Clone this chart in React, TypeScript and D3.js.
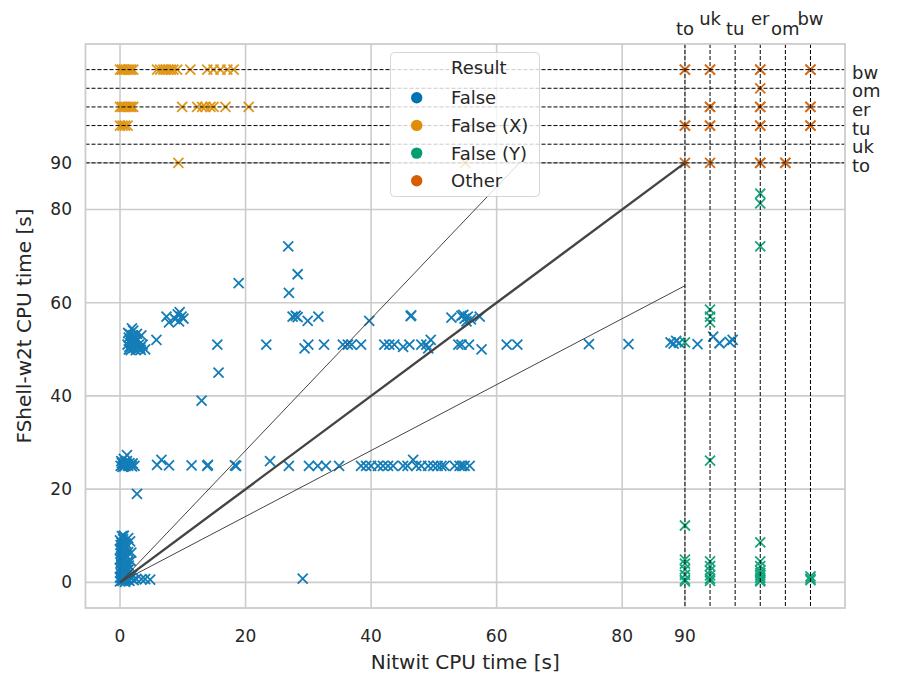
import React from 'react';
import * as d3 from 'd3';

const categories = ['False', 'False (X)', 'False (Y)', 'Other'];
const palette = ['#0173b2', '#de8f05', '#029e73', '#d55e00'];
const xTicks = [0, 20, 40, 60, 80, 90];
const yTicks = [0, 20, 40, 60, 80, 90];
const specialLabels = ['to', 'uk', 'tu', 'er', 'om', 'bw'];
const specialValues = [90, 94, 98, 102, 106, 110];
const refSlopes = [1, Math.SQRT2, Math.SQRT1_2];
const refLimit = 90;

// Result = False
const falsePts: [number, number][] = [
  [0, 0.2], [0.2, 0.5], [0.4, 0.3], [0.6, 0.8], [0.9, 0.4], [1.2, 0.6], [1.5, 0.3], [1.8, 0.9], [2.2, 0.5], [2.6, 0.7],
  [0.1, 1.2], [0.5, 1.6], [0.9, 1.3], [1.3, 1.9], [0.2, 2.4], [0.6, 2.9], [1, 2.5], [0.3, 3.4], [0.7, 3.8], [0.1, 4.2],
  [0.5, 4.7], [0.9, 5.1], [1.7, 4.6], [0.2, 5.6], [0.6, 6], [1.8, 6.4], [0.3, 6.8], [0.8, 7.2], [0.4, 7.8], [1, 8.3],
  [0.2, 8.6], [1.6, 8.8], [0.5, 9.3], [0.3, 9.9], [3.4, 0.7], [4, 0.7], [4.8, 0.6], [29.1, 0.8],
  [0, 1], [0.1, 2], [0, 3], [0.2, 3.2], [0, 5], [0.1, 6.2], [0, 7], [0.1, 8], [0, 9], [0.4, 1.1],
  [0.7, 2.1], [1.1, 3.2], [0.4, 4.4], [1.2, 4.4], [0.8, 5.8], [1.3, 6.5], [1.1, 7.6], [0.7, 8.6], [1.3, 9.5], [0.6, 10],
  [1.5, 1.3], [2, 1.6], [1.4, 2.8], [0.3, 0.9], [0.8, 0.1], [1.1, 1], [0.5, 5.2], [1, 5.8], [0.2, 7.3], [1.4, 3.6],
  [2.7, 19],
  [0.1, 25], [0.3, 25.6], [0.5, 25], [0.7, 24.9], [0.9, 25.3], [1.1, 26], [1.3, 25], [1.1, 27.3], [1.7, 25.2], [2, 25.5],
  [2.3, 25], [0.6, 26.5], [0.2, 26], [0.8, 25.8], [1.5, 25.6], [0.4, 24.8], [1.9, 24.9],
  [5.9, 25.2], [6.6, 26.3], [7.8, 25.1], [11.4, 25.1], [13.9, 25], [14, 25.2], [18.3, 25.1], [18.5, 25],
  [23.9, 26], [26.9, 25], [30.1, 25], [31.5, 25], [32.8, 25], [34.9, 25], [38.4, 25], [39.2, 25], [40, 25], [41.1, 25],
  [41.9, 25], [42.7, 25], [43.5, 25], [45.1, 25], [45.8, 25], [46.7, 26.3], [47.2, 25], [48, 25], [49.1, 25], [49.9, 25],
  [50.6, 25], [51.2, 25], [51.7, 25], [53.3, 25], [54.1, 25], [54.5, 25], [54.9, 25], [55.7, 25],
  [13, 39], [15.7, 45],
  [1.2, 51], [1.4, 50], [1.6, 52], [1.8, 51], [2, 53], [2.2, 50.3], [2.4, 51.5], [1.9, 54.5], [2.6, 50.5], [2.8, 52],
  [3, 51], [3.2, 50.3], [3.4, 53], [3.6, 51], [1.5, 50.5], [2.3, 52.8], [2.9, 50.2], [4, 50], [1.3, 53.5], [2.1, 54],
  [1.7, 49.8], [2.5, 49.8], [1.4, 52.5], [2.7, 53.3], [3.3, 49.9], [1.9, 51.8], [2.4, 52.2], [1.6, 53.2],
  [5.8, 52], [15.5, 51], [23.3, 51], [29.4, 50.2], [30, 51], [32.5, 51], [35.5, 51], [36.3, 51], [36.9, 51], [38.4, 51],
  [42.1, 51], [42.9, 51], [43.7, 51], [45.1, 50.5], [46.1, 51], [48, 51], [48.8, 51], [49.5, 52], [49.1, 50.2], [53.9, 51],
  [54.4, 51], [55.6, 51], [57.6, 50], [61.6, 51], [63.3, 51], [74.7, 51.1], [81, 51.1], [87.7, 51.5], [88.2, 51.2], [88.6, 51.8],
  [89.1, 51.4], [92, 51.1], [94.5, 52.7], [95.5, 51.3], [97.1, 51.6], [97.6, 52],
  [7.4, 57], [7.8, 55.8], [8.8, 56.5], [9.2, 57.5], [9.5, 58], [9.8, 57], [10.1, 56.6], [9.4, 56],
  [27.5, 57], [28, 57.2], [28.3, 56.9], [29.9, 56.1], [31.6, 57], [39.7, 56.1], [46.3, 57.1], [46.4, 57.3],
  [52.8, 56.8], [54.4, 57.2], [54.9, 56.6], [55.4, 57], [55.9, 56.4], [57.3, 57], [54.7, 57.4], [55.2, 56],
  [26.9, 62.1], [18.9, 64.2], [28.3, 66.1], [26.8, 72.1],
];

// Result = False (X)
const falseXPts: [number, number][] = [
  [0, 110], [0.3, 110], [0.6, 110], [0.9, 110], [1.2, 110], [1.5, 110], [1.8, 110], [2.1, 110],
  [5.9, 110], [6.4, 110], [6.9, 110], [7.3, 110], [7.7, 110], [8.1, 110], [8.5, 110], [9.1, 110], [11.2, 110],
  [13.9, 110], [14.9, 110], [16, 110], [17.1, 110], [18.1, 110],
  [0, 102], [0.3, 102], [0.6, 102], [0.9, 102], [1.2, 102], [1.5, 102], [1.8, 102], [2.1, 102],
  [9.9, 102], [12.3, 102], [13.1, 102], [13.6, 102], [14.4, 102], [14.9, 102], [16.8, 102], [20.5, 102],
  [0, 98], [0.4, 98], [0.8, 98], [1.2, 98],
  [9.3, 90], [55, 90],
];

// Result = False (Y)
const falseYPts: [number, number][] = [
  [90, 51.5], [90, 12.2], [90, 4.9], [90, 4], [90, 2.8], [90, 1.6], [90, 0.6], [90, 0.2],
  [94, 58.5], [94, 57], [94, 55.8], [94, 26.1], [94, 4.5], [94, 3.5], [94, 2.5], [94, 1.5], [94, 0.8], [94, 0.3],
  [102, 83.4], [102, 81.3], [102, 72.1], [102, 8.6], [102, 4.5], [102, 3.5], [102, 2.5], [102, 2], [102, 1.5], [102, 1], [102, 0.5], [102, 0.2],
  [110, 1.3], [110, 0.8], [110, 0.5],
];

// Result = Other
const otherPts: [number, number][] = [
  [90, 110], [90, 110], [90, 98], [90, 98], [90, 90],
  [94, 110], [94, 110], [94, 102], [94, 102], [94, 98], [94, 98], [94, 90],
  [102, 110], [102, 110], [102, 106], [102, 102], [102, 102], [102, 98], [102, 98], [102, 90], [102, 90],
  [106, 90], [106, 90],
  [110, 110], [110, 110], [110, 102], [110, 102], [110, 98], [110, 98],
];

const seriesPts = [falsePts, falseXPts, falseYPts, otherPts];

const W = 899;
const H = 677;
const FONT = 'DejaVu Sans, sans-serif';
const TXT = '#262626';

export default function App() {
  const x = d3.scaleLinear().domain([-5.5, 115.5]).range([85.5, 845]);
  const y = d3.scaleLinear().domain([-5.5, 115.5]).range([608, 44]);
  const [x0, x1] = x.range();
  const [y0, y1] = y.range();
  const ms = 5;

  const line = d3.line<[number, number]>().x(d => x(d[0])).y(d => y(d[1]));

  return (
    <div style={{ position: 'fixed', left: 0, top: 0, width: W, height: H, background: '#fff' }}>
      <svg width={W} height={H} style={{ display: 'block' }} fontFamily={FONT}>
        <rect x={0} y={0} width={W} height={H} fill="#fff" />
        {xTicks.map(t => (
          <line key={'gx' + t} x1={x(t)} x2={x(t)} y1={y1} y2={y0} stroke="#cccccc" strokeWidth={1.6} />
        ))}
        {yTicks.map(t => (
          <line key={'gy' + t} x1={x0} x2={x1} y1={y(t)} y2={y(t)} stroke="#cccccc" strokeWidth={1.6} />
        ))}
        {seriesPts.map((pts, si) => (
          <g key={'s' + si} stroke={palette[si]} strokeWidth={1.8} opacity={0.92}>
            {pts.map((p, i) => {
              const cx = x(p[0]);
              const cy = y(p[1]);
              return (
                <path key={i} d={`M${cx - ms},${cy - ms}L${cx + ms},${cy + ms}M${cx - ms},${cy + ms}L${cx + ms},${cy - ms}`} />
              );
            })}
          </g>
        ))}
        {refSlopes.map((s, i) => {
          const pts: [number, number][] = s >= 1 ? [[0, 0], [refLimit / s, refLimit]] : [[0, 0], [refLimit, refLimit * s]];
          return (
            <path key={'r' + i} d={line(pts) || ''} stroke="#444" strokeWidth={s === 1 ? 2.4 : 1} fill="none" />
          );
        })}
        {specialValues.map(v => (
          <g key={'d' + v}>
            <line x1={x0} x2={x1} y1={y(v)} y2={y(v)} stroke="#000" strokeWidth={1} strokeDasharray="4,2" />
            <line x1={x(v)} x2={x(v)} y1={y1} y2={y0} stroke="#000" strokeWidth={1} strokeDasharray="4,2" />
          </g>
        ))}
        <rect x={x0} y={y1} width={x1 - x0} height={y0 - y1} fill="none" stroke="#cccccc" strokeWidth={1.8} />
        {xTicks.map(t => (
          <text key={'tx' + t} x={x(t)} y={642} textAnchor="middle" fontSize={17} fill={TXT}>{t}</text>
        ))}
        {yTicks.map(t => (
          <text key={'ty' + t} x={72} y={y(t) + 6} textAnchor="end" fontSize={17} fill={TXT}>{t}</text>
        ))}
        {specialLabels.map((l, i) => (
          <text key={'st' + l} x={x(specialValues[i])} y={i % 2 === 0 ? 35 : 25} textAnchor="middle" fontSize={18} fill={TXT}>{l}</text>
        ))}
        {specialLabels.map((l, i) => (
          <text key={'sr' + l} x={852} y={y(specialValues[i]) + 9} textAnchor="start" fontSize={18} fill={TXT}>{l}</text>
        ))}
        <text x={(x0 + x1) / 2} y={669} textAnchor="middle" fontSize={20} fill={TXT}>Nitwit CPU time [s]</text>
        <text transform={`translate(31,${(y0 + y1) / 2}) rotate(-90)`} textAnchor="middle" fontSize={20} fill={TXT}>FShell-w2t CPU time [s]</text>
        <g>
          <rect x={390.5} y={52.5} width={149} height={144} rx={4} fill="#fff" fillOpacity={0.8} stroke="#cccccc" strokeOpacity={0.8} />
          <text x={451} y={74} fontSize={18} fill={TXT}>Result</text>
          {categories.map((c, i) => {
            const cy = 97.7 + i * 27.7;
            return (
              <g key={'l' + c}>
                <circle cx={416.7} cy={cy} r={5.7} fill={palette[i]} />
                <text x={451} y={cy + 6.5} fontSize={18} fill={TXT}>{c}</text>
              </g>
            );
          })}
        </g>
      </svg>
    </div>
  );
}
